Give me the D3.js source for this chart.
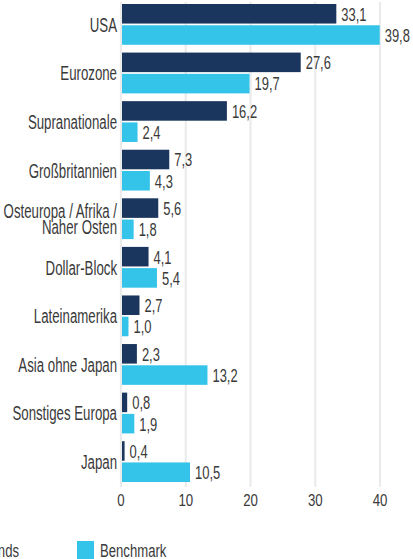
<!DOCTYPE html>
<html><head><meta charset="utf-8">
<script src="https://cdn.jsdelivr.net/npm/d3@7"></script>
<style>
html,body{margin:0;padding:0;background:#fff;overflow:hidden;}
text{font-family:"Liberation Sans",Arial,sans-serif;fill:#3a3a3a;}
</style></head>
<body>
<svg id="c" width="413" height="559"></svg>
<script>
const categories = ["USA","Eurozone","Supranationale","Großbritannien","Osteuropa / Afrika /\nNaher Osten","Dollar-Block","Lateinamerika","Asia ohne Japan","Sonstiges Europa","Japan"];
const fonds = [33.1,27.6,16.2,7.3,5.6,4.1,2.7,2.3,0.8,0.4];
const benchmark = [39.8,19.7,2.4,4.3,1.8,5.4,1.0,13.2,1.9,10.5];
const seriesNames = ["Fonds","Benchmark"];
const xTicks = [0,10,20,30,40];

const colors = {Fonds:"#1b365e", Benchmark:"#34c4e9"};
const svg = d3.select("#c");
const x = d3.scaleLinear().domain([0,40]).range([122,381]);
const y = d3.scaleBand().domain(categories).range([4,482]).paddingInner(0.16).paddingOuter(0);
const ys = d3.scaleBand().domain(seriesNames).range([0,y.bandwidth()]).paddingInner(0.08);
const fmt = v => d3.format(".1f")(v).replace(".",",");

function stxt(g, tx, ty, str, size, sx, anchor){
  const t = g.append("g").attr("transform",`translate(${tx},${ty}) scale(${sx},1)`)
    .append("text").attr("font-size",size).attr("text-anchor",anchor).attr("dominant-baseline","central").text(str);
  return t;
}

// grid
svg.append("g").selectAll("line").data(xTicks).join("line")
  .attr("x1",d=>x(d)-1).attr("x2",d=>x(d)-1).attr("y1",2).attr("y2",487)
  .attr("stroke","#ebebeb").attr("stroke-width",2.2);

// tick labels
const tg = svg.append("g");
xTicks.forEach(d=>stxt(tg, x(d)-1, 500, String(d), 17, 0.78, "middle"));

// bars
const data = categories.map((c,i)=>({c, vals:[{s:"Fonds",v:fonds[i]},{s:"Benchmark",v:benchmark[i]}]}));
const grp = svg.append("g").selectAll("g").data(data).join("g")
  .attr("transform",d=>`translate(0,${y(d.c)})`);
grp.selectAll("rect").data(d=>d.vals).join("rect")
  .attr("x",x(0)).attr("y",d=>ys(d.s)).attr("width",d=>x(d.v)-x(0)).attr("height",ys.bandwidth())
  .attr("fill",d=>colors[d.s]);
grp.each(function(d){
  const g = d3.select(this);
  d.vals.forEach(v=>stxt(g, x(v.v)+5, ys(v.s)+ys.bandwidth()/2+0.5, fmt(v.v), 18.5, 0.7, "start"));
  const lines = d.c.split("\n");
  const mid = y.bandwidth()/2 + 1;
  lines.forEach((l,k)=>stxt(g, 117, mid + (k-(lines.length-1)/2)*16.5, l, 19.5, 0.68, "end"));
});

// legend
const lg = svg.append("g");
const ly = 550;
lg.append("rect").attr("x",-44).attr("y",541).attr("width",17).attr("height",18).attr("fill",colors.Fonds);
stxt(lg, 19, ly, "Fonds", 18.5, 0.71, "end");
lg.append("rect").attr("x",77).attr("y",541).attr("width",17).attr("height",18).attr("fill",colors.Benchmark);
stxt(lg, 100, ly, "Benchmark", 18.5, 0.71, "start");
</script>
</body></html>
